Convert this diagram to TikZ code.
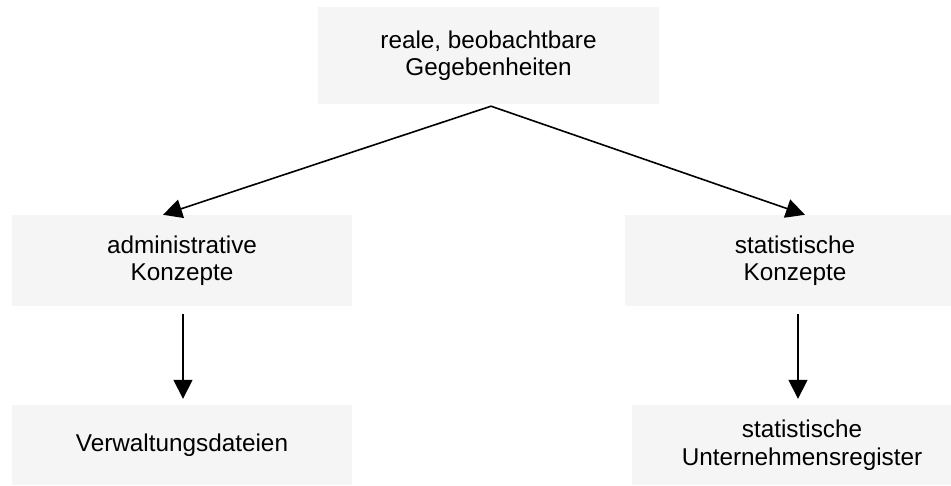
\documentclass[tikz,border=0pt]{standalone}
\usepackage{fontspec}
\setmainfont{Liberation Sans}
\usetikzlibrary{arrows.meta,calc}
\definecolor{boxgray}{HTML}{F5F5F5}
\tikzset{
  box/.style={fill=boxgray, draw=none, inner sep=0pt, align=center,
    font=\fontsize{24.3pt}{27.5pt}\selectfont},
  conn/.style={line width=1.6pt, -{Triangle[length=19pt,width=19pt]}}
}
\begin{document}
\begin{tikzpicture}[x=1pt,y=-1pt]
\useasboundingbox (0,0) rectangle (951,486);
\node[box, minimum width=341pt, minimum height=97pt] (top) at (488.5,55.5) {reale, beobachtbare\\Gegebenheiten};
\node[box, minimum width=340pt, minimum height=91pt] (adm) at (182,260.5) {administrative\\Konzepte};
\node[box, minimum width=340pt, minimum height=91pt] (stat) at (795,260.5) {statistische\\Konzepte};
\node[box, minimum width=340pt, minimum height=80pt] (verw) at (182,445) {Verwaltungsdateien};
\node[box, minimum width=340pt, minimum height=80pt] (reg) at (802,445) {statistische\\Unternehmensregister};
\draw[conn] ($(top.south)+(2.5,2)$) -- ($(adm.north)+(-19,0)$);
\draw[conn] ($(top.south)+(2.5,2)$) -- ($(stat.north)+(10,0)$);
\draw[conn] ($(adm.south)+(1,8)$) -- ($(verw.north)+(1,-6)$);
\draw[conn] ($(stat.south)+(3,8)$) -- ($(reg.north)+(-4,-6)$);
\end{tikzpicture}
\end{document}
